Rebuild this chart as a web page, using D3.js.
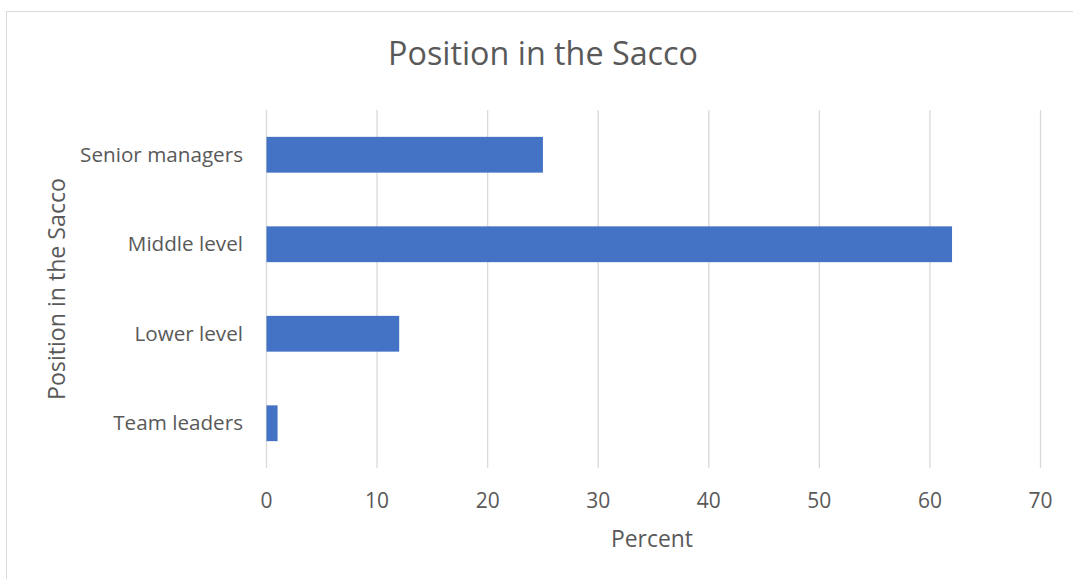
<!DOCTYPE html>
<html>
<head>
<meta charset="utf-8">
<script src="https://cdn.jsdelivr.net/npm/d3@7"></script>
<style>
  html, body { margin: 0; padding: 0; background: #ffffff; }
  svg { display: block; }
  text { font-family: "Open Sans", "Noto Sans", sans-serif; fill: #595959; }
</style>
</head>
<body>
<svg id="chart" width="1073" height="579"></svg>
<script>
const categories = ["Senior managers", "Middle level", "Lower level", "Team leaders"];
const values = [25, 62, 12, 1];
const xTicks = [0, 10, 20, 30, 40, 50, 60, 70];
const chartTitle = "Position in the Sacco";
const xTitle = "Percent";
const yTitle = "Position in the Sacco";

const W = 1073, H = 579;
const plot = { left: 266, right: 1040, top: 110, bottom: 468 };

const svg = d3.select("#chart");

// outer chart border
svg.append("rect")
  .attr("x", 6.5).attr("y", 11.5)
  .attr("width", W + 10).attr("height", H + 10)
  .attr("fill", "#ffffff").attr("stroke", "#d9d9d9").attr("stroke-width", 1);

const x = d3.scaleLinear().domain([0, 70]).range([plot.left, plot.right]);
const y = d3.scaleBand().domain(categories).range([plot.top, plot.bottom])
  .paddingInner(0.6).paddingOuter(0.3);

// fit text to a target width
function fit(sel, targetWidth, base) {
  sel.attr("font-size", base);
  const w = sel.node().getComputedTextLength();
  sel.attr("font-size", base * targetWidth / w);
  return sel;
}

// gridlines + tick labels
const xAxis = d3.axisBottom(x).tickValues(xTicks).tickSize(-(plot.bottom - plot.top)).tickPadding(0);
const gx = svg.append("g").attr("transform", `translate(0,${plot.bottom})`).call(xAxis);
gx.select(".domain").remove();
gx.selectAll(".tick line").attr("stroke", "#d9d9d9").attr("stroke-width", 1.3);
gx.selectAll(".tick text").attr("y", 40).attr("dy", 0)
  .style("font-family", '"Open Sans", "Noto Sans", sans-serif')
  .attr("fill", "#595959");
gx.selectAll(".tick text").each(function(d) {
  if (d === 70) fit(d3.select(this), 24, 18);
});
const tickSize = d3.select(gx.selectAll(".tick text").nodes()[7]).attr("font-size");
gx.selectAll(".tick text").attr("font-size", tickSize);

// bars
svg.append("g").selectAll("rect").data(categories).join("rect")
  .attr("x", x(0) + 0.5)
  .attr("y", d => y(d))
  .attr("width", (d, i) => x(values[i]) - x(0))
  .attr("height", y.bandwidth())
  .attr("fill", "#4472c4");

// category labels
const yAxis = d3.axisLeft(y).tickSize(0).tickPadding(23);
const gy = svg.append("g").attr("transform", `translate(${plot.left},0)`).call(yAxis);
gy.select(".domain").remove();
gy.selectAll(".tick text")
  .style("font-family", '"Open Sans", "Noto Sans", sans-serif')
  .attr("fill", "#595959").attr("dy", "0.35em");
gy.selectAll(".tick text").each(function(d) {
  if (d === "Senior managers") fit(d3.select(this), 163, 18);
});
const catSize = d3.select(gy.selectAll(".tick text").nodes()[0]).attr("font-size");
gy.selectAll(".tick text").attr("font-size", catSize);

// title
fit(svg.append("text")
  .attr("x", 543).attr("y", 65)
  .attr("text-anchor", "middle")
  .text(chartTitle), 310, 30);

// x axis title
fit(svg.append("text")
  .attr("x", 652).attr("y", 547)
  .attr("text-anchor", "middle")
  .text(xTitle), 82, 20);

// y axis title
fit(svg.append("text")
  .attr("transform", "translate(65,289) rotate(-90)")
  .attr("text-anchor", "middle")
  .text(yTitle), 222, 20);
</script>
</body>
</html>
